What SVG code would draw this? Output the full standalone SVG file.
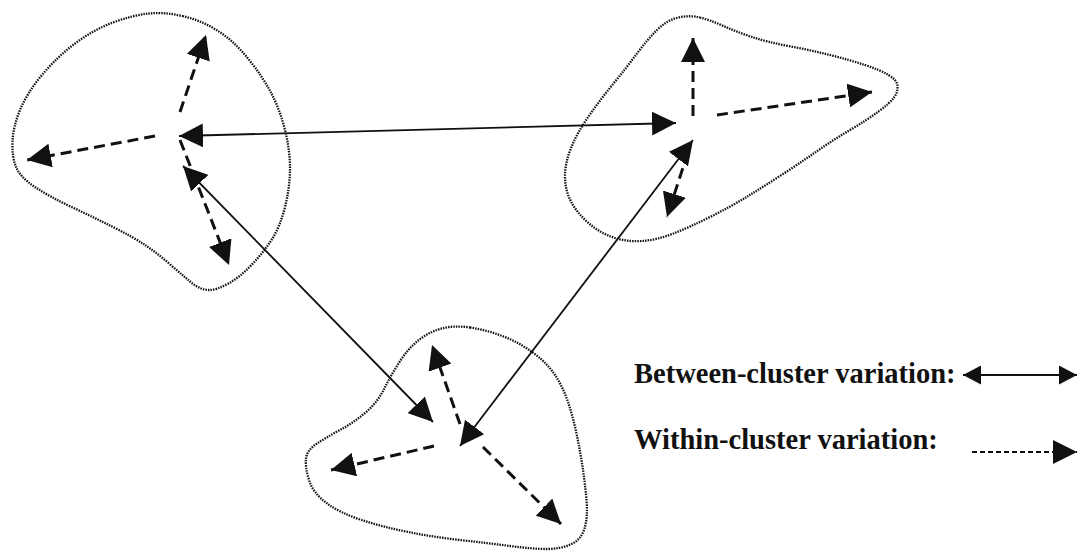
<svg xmlns="http://www.w3.org/2000/svg" width="1078" height="552" viewBox="0 0 1078 552">
<style>
.outline{fill:none;stroke:#111;stroke-width:2.3;stroke-dasharray:1.5 1.1;stroke-linejoin:round}
.between{fill:none;stroke:#111;stroke-width:1.8}
.within{fill:none;stroke:#111;stroke-width:3;stroke-dasharray:11 6}
.leg-within{fill:none;stroke:#111;stroke-width:2.2;stroke-dasharray:5 3}
.label{font-family:"Liberation Serif","Times New Roman",serif;font-weight:bold;font-size:28.5px;fill:#111}
</style>
<defs>
<marker id="ah" viewBox="0 0 24 24" markerWidth="24" markerHeight="24" markerUnits="userSpaceOnUse" refX="24" refY="12" orient="auto-start-reverse">
<path d="M0,0 L24,12 L0,24 Z" fill="#111"/>
</marker>
<marker id="ahs" viewBox="0 0 18 19" markerWidth="18" markerHeight="19" markerUnits="userSpaceOnUse" refX="18" refY="9.5" orient="auto-start-reverse">
<path d="M0,0 L18,9.5 L0,19 Z" fill="#111"/>
</marker>
</defs>

<g id="cluster-1">
<path class="outline" d="M182.5,16 Q200,20 216.5,30 Q233,40 248,58.5 Q263,77 271.5,93.5 Q280,110 285,130 Q290,150 290,168.5 Q290,187 285,207 Q280,227 271.5,240 Q263,253 251.5,265 Q240,277 228.5,283.5 Q217,290 208.5,290 Q200,290 190,281.5 Q180,273 168.5,263 Q157,253 145,245 Q133,237 113,227 Q93,217 71.5,207 Q50,197 35,187 Q20,177 16,167 Q12,157 12.5,142 Q13,127 20,110 Q27,93 42,75 Q57,57 75,43.5 Q93,30 113,22.5 Q133,15 149,13.5 Q165,12 182.5,16 Z"/>
</g>
<g id="cluster-2">
<path class="outline" d="M700,17.5 Q710,20 723.5,26 Q737,32 752,37 Q767,42 788.5,46 Q810,50 830,55 Q850,60 865,65 Q880,70 888.5,75 Q897,80 897.5,86 Q898,92 894,97.5 Q890,103 878.5,111.5 Q867,120 850,130 Q833,140 816.5,151.5 Q800,163 781.5,175 Q763,187 746.5,197 Q730,207 710,217 Q690,227 673.5,233.5 Q657,240 642,241 Q627,242 613.5,237.5 Q600,233 588.5,223 Q577,213 571,201.5 Q565,190 565,176.5 Q565,163 571,148 Q577,133 588.5,116.5 Q600,100 613.5,83.5 Q627,67 637,53.5 Q647,40 657,30 Q667,20 678.5,17.5 Q690,15 700,17.5 Z"/>
</g>
<g id="cluster-3">
<path class="outline" d="M470,327.5 Q487,330 503.5,336.5 Q520,343 533.5,353 Q547,363 555,375 Q563,387 568,402 Q573,417 576.5,433.5 Q580,450 582.5,466.5 Q585,483 586.5,500 Q588,517 584.5,528.5 Q581,540 570.5,544.5 Q560,549 546.5,549 Q533,549 510,546 Q487,543 460,540 Q433,537 408,532 Q383,527 361.5,520 Q340,513 326.5,503 Q313,493 309,480 Q305,467 306,458.5 Q307,450 317,443.5 Q327,437 340,430 Q353,423 365,413 Q377,403 383.5,390 Q390,377 398.5,363.5 Q407,350 417,341.5 Q427,333 440,329 Q453,325 470,327.5 Z"/>
</g>

<g id="connectors">
<!-- between-cluster -->
<line class="between" x1="179" y1="136" x2="676" y2="123" marker-start="url(#ah)" marker-end="url(#ah)"/>
<line class="between" x1="183" y1="166" x2="433" y2="422" marker-start="url(#ah)" marker-end="url(#ah)"/>
<line class="between" x1="693" y1="140" x2="460" y2="446" marker-start="url(#ah)" marker-end="url(#ah)"/>
<!-- within cluster 1 -->
<line class="within" x1="180" y1="112" x2="206" y2="35" marker-end="url(#ah)"/>
<line class="within" x1="155" y1="136" x2="27" y2="160" marker-end="url(#ah)"/>
<line class="within" x1="180" y1="140" x2="229" y2="265" marker-end="url(#ah)"/>
<!-- within cluster 2 -->
<line class="within" x1="693" y1="116" x2="693" y2="38" marker-end="url(#ah)"/>
<line class="within" x1="717" y1="115" x2="872" y2="92" marker-end="url(#ah)"/>
<line class="within" x1="688" y1="152" x2="667" y2="217" marker-end="url(#ah)"/>
<!-- within cluster 3 -->
<line class="within" x1="460" y1="424" x2="432" y2="345" marker-end="url(#ah)"/>
<line class="within" x1="434" y1="446" x2="331" y2="470" marker-end="url(#ah)"/>
<line class="within" x1="483" y1="447" x2="561" y2="524" marker-end="url(#ah)"/>
</g>

<g id="legend">
<text class="label" x="634" y="383">Between-cluster variation:</text>
<line class="between" x1="963" y1="375" x2="1077" y2="375" stroke-width="2" marker-start="url(#ahs)" marker-end="url(#ahs)"/>
<text class="label" x="634" y="449">Within-cluster variation:</text>
<line class="leg-within" x1="972" y1="452" x2="1077" y2="452" marker-end="url(#ah)"/>
</g>
</svg>
